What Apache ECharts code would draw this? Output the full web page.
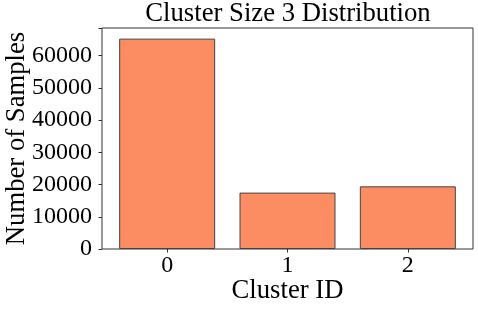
<!DOCTYPE html>
<html>
<head>
<meta charset="utf-8">
<script src="https://cdn.jsdelivr.net/npm/echarts@6/dist/echarts.min.js"></script>
<style>html,body{margin:0;padding:0;background:#fff}#c{width:478px;height:310px}</style>
</head>
<body>
<div id="c"></div>
<script>
const categories = ['0', '1', '2'];
const sampleCounts = [65300, 17500, 19450];
const yTicks = [0, 10000, 20000, 30000, 40000, 50000, 60000];
const titleText = 'Cluster Size 3 Distribution';
const xName = 'Cluster ID';
const yName = 'Number of Samples';

const FONT = '"Liberation Serif", "Times New Roman", serif';
const YMAX = 68600;
const chart = echarts.init(document.getElementById('c'), null, {renderer: 'canvas'});
chart.setOption({
  animation: false,
  backgroundColor: '#fff',
  graphic: [{
    type: 'text', x: 288, y: 14,
    style: {text: titleText, font: '26.7px ' + FONT, fill: '#000', textAlign: 'center', textVerticalAlign: 'middle'}
  }],
  grid: [
    {left: 102, right: 5, top: 28, bottom: 61, show: true, borderColor: '#333', borderWidth: 1, backgroundColor: 'transparent', containLabel: false, outerBoundsMode: 'none'},
    {left: 107, right: 10, top: 28, bottom: 61, containLabel: false, outerBoundsMode: 'none'}
  ],
  xAxis: [
    {gridIndex: 0, type: 'value', show: false, min: 0, max: 1},
    {gridIndex: 1, type: 'category', data: categories,
     axisLine: {show: false},
     axisTick: {show: true, alignWithLabel: true, length: 3.5, lineStyle: {color: '#333'}},
     axisLabel: {fontFamily: FONT, fontSize: 24, color: '#000', margin: 5},
     name: xName, nameLocation: 'middle', nameGap: 28, nameMoveOverlap: false,
     nameTextStyle: {fontFamily: FONT, fontSize: 26.7, color: '#000'}}
  ],
  yAxis: [
    {gridIndex: 0, type: 'value', min: 0, max: YMAX, interval: 10000,
     axisLine: {show: false},
     axisTick: {show: true, length: 3.5, lineStyle: {color: '#333'}},
     splitLine: {show: false},
     axisLabel: {fontFamily: FONT, fontSize: 24, color: '#000', margin: 10,
       formatter: v => yTicks.includes(v) ? String(v) : ''},
     name: yName, nameLocation: 'middle', nameGap: 72, nameMoveOverlap: false,
     nameTextStyle: {fontFamily: FONT, fontSize: 26.7, color: '#000'}},
    {gridIndex: 1, type: 'value', min: 0, max: YMAX, show: false}
  ],
  series: [{
    type: 'bar', xAxisIndex: 1, yAxisIndex: 1,
    data: sampleCounts, barWidth: 96,
    itemStyle: {color: '#fc8d62', borderColor: '#444', borderWidth: 1}
  }]
});
</script>
</body>
</html>
